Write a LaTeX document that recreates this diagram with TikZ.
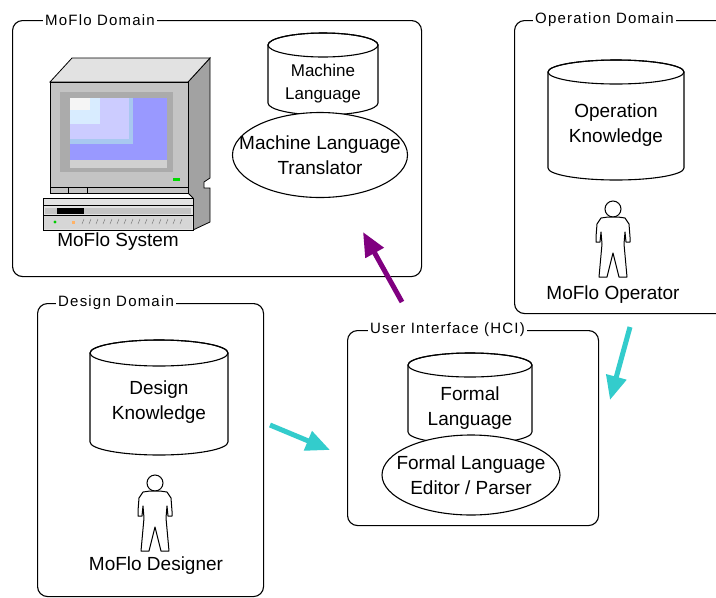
\documentclass[tikz,border=0pt]{standalone}
\usepackage{fontspec}
\setmainfont{Liberation Sans}
\newfontfamily\labfont[LetterSpace=8]{Liberation Sans}
\usetikzlibrary{shapes.geometric,arrows.meta}

\definecolor{flowcyan}{HTML}{33CCCC}
\definecolor{flowpurple}{HTML}{800080}
\definecolor{scrblue}{HTML}{9999FF}
\definecolor{scrlav}{HTML}{CCCCFF}
\definecolor{scrsky}{HTML}{A8C8F0}
\definecolor{scrice}{HTML}{D8ECFF}
\definecolor{casetop}{HTML}{E2E2E2}
\definecolor{casefront}{HTML}{C4C4C4}
\definecolor{caseside}{HTML}{A2A2A2}
\definecolor{casebezel}{HTML}{ABABAB}

% cylinder (data store): left x, right x, top-centre y, bottom-centre y, end radius
\newcommand\dbcylinder[5]{%
  \pgfmathsetmacro\cylrx{(#2-#1)/2}%
  \pgfmathsetmacro\cylcx{(#2+#1)/2}%
  \filldraw[fill=white, line width=1.1pt]
    (#1,#3) -- (#1,#4) arc[start angle=180, end angle=360, x radius=\cylrx pt, y radius=#5pt]
    -- (#2,#3) arc[start angle=0, end angle=180, x radius=\cylrx pt, y radius=#5pt] -- cycle;
  \draw[line width=1.1pt] (\cylcx,#3) ellipse[x radius=\cylrx pt, y radius=#5pt];
}

\tikzset{
  person/.pic={
    \filldraw[fill=white, line width=1pt] (0,8) circle[radius=8pt];
    \filldraw[fill=white, line width=1pt, line join=round]
      (-5,16) -- (-12,17) -- (-16,23) -- (-17,36) -- (-17,41) -- (-13,41) -- (-12,31)
      -- (-11,43) -- (-14,76) -- (-6,76) -- (0,52) -- (6,76) -- (14,76) -- (11,43)
      -- (12,31) -- (13,41) -- (17,41) -- (17,36) -- (16,23) -- (12,17) -- (5,16) -- cycle;
  }
}

\begin{document}
\begin{tikzpicture}[x=1pt, y=-1pt,
  dombox/.style={draw, line width=1.1pt, rounded corners=10pt, anchor=north west,
                 inner sep=0pt, rectangle},
  domlabel/.style={fill=white, inner xsep=2pt, inner ysep=1pt, anchor=west,
                   font=\labfont\fontsize{15}{17}\selectfont},
  txt/.style={align=center, inner sep=0pt, font=\fontsize{19}{25}\selectfont},
  smalltxt/.style={align=center, inner sep=0pt, font=\fontsize{17}{23}\selectfont},
  procell/.style={ellipse, draw, fill=white, line width=1.1pt, inner sep=0pt},
  flow/.style={line width=5pt, -{Triangle[length=24pt, width=20pt]}},
]
\clip (0,0) rectangle (716,598);
\fill[white] (0,0) rectangle (716,598);

% ---------- domain frames ----------
\node[dombox, minimum width=409pt, minimum height=256pt] (moflo) at (12,20) {};
\node[domlabel] (mofloLbl) at ([xshift=31pt]moflo.north west) {MoFlo Domain};

\node[dombox, minimum width=220pt, minimum height=293pt] (oper) at (514,20) {};
\node[domlabel] (operLbl) at ([xshift=19pt]oper.north west) {Operation Domain};

\node[dombox, minimum width=226pt, minimum height=293pt] (design) at (37,303) {};
\node[domlabel] (designLbl) at ([xshift=19pt]design.north west) {Design Domain};

\node[dombox, minimum width=251pt, minimum height=195pt] (ui) at (347,330) {};
\node[domlabel] (uiLbl) at ([xshift=21pt]ui.north west) {User Interface (HCI)};

% ---------- data stores ----------
\dbcylinder{268}{378}{45}{103}{12}
\node[smalltxt] (mlang) at (323,84) {Machine\\Language};

\dbcylinder{548}{684}{72}{168}{12}
\node[txt] (opk) at (616,125) {Operation\\Knowledge};

\dbcylinder{90}{228}{353}{442}{13}
\node[txt] (dk) at (159,402) {Design\\Knowledge};

\dbcylinder{408}{532}{365}{432}{12}
\node[txt] (flang) at (470,408) {Formal\\Language};

% ---------- processes ----------
\node[procell, minimum width=175pt, minimum height=85pt] (mlt) at (320,155) {};
\node[txt] (mltText) at (mlt) {Machine Language\\Translator};

\node[procell, minimum width=178pt, minimum height=80pt] (flep) at (471,475) {};
\node[txt] (flepText) at (flep) {Formal Language\\Editor / Parser};

% ---------- actors ----------
\pic at (613,201) {person};
\node[txt] (opName) at (613,295) {MoFlo Operator};

\pic at (155,475) {person};
\node[txt] (dsName) at (156,566) {MoFlo Designer};

% ---------- workstation ----------
\begin{scope}[line width=0.8pt]
  % side and top of the monitor case
  \filldraw[fill=caseside] (188,82) -- (210,58) -- (210,178) -- (204,182) -- (204,188)
    -- (210,188) -- (210,222) -- (193,230) -- (193,198) -- (188,193) -- cycle;
  \filldraw[fill=casetop] (50,82) -- (72,58) -- (210,58) -- (188,82) -- cycle;
  % monitor front
  \filldraw[fill=casefront] (50,82) rectangle (188,193);
  \fill[casebezel] (60,92) rectangle (173,172);
  \fill[casefront!80!white] (70,160) rectangle (167,168);
  \fill[scrblue] (70,98) rectangle (167,160);
  \fill[scrsky] (70,98) rectangle (133,144);
  \fill[scrlav] (70,98) rectangle (129,139);
  \fill[scrice] (70,98) rectangle (100,124);
  \fill[white!92!gray] (70,98) rectangle (90,110);
  \fill[green!85!black] (173,178) rectangle (180,181);
  \draw (50,187) -- (188,187);
  \draw (68,187) -- (68,193);
  \draw (87,187) -- (87,193);
  % base unit
  \filldraw[fill=casetop] (43,198) rectangle (193,230);
  \draw (43,205) -- (193,205);
  \fill[casefront] (45,208) rectangle (191,214);
  \fill[black] (57,208) rectangle (84,214);
  \draw (43,215) -- (193,215);
  \fill[casefront!70!white] (44,216) rectangle (192,229);
  \foreach \k in {0,...,14} {
    \draw[gray, line width=0.5pt] ({82+7*\k},224) -- ({84+7*\k},219);
  }
  \fill[green!80!black] (55,222) circle[radius=1.6pt];
  \fill[orange!60] (72,221) rectangle (75,224);
\end{scope}
\node[txt] (sysName) at (118,242) {MoFlo System};

% ---------- information flows ----------
\coordinate (toMachine) at (363,232);
\coordinate (fromUI) at (402,302);
\coordinate (fromDesign) at (270,425);
\coordinate (toUIleft) at (330,450);
\coordinate (fromOper) at (630,327);
\coordinate (toUIright) at (610,400);

\draw[flow, flowpurple] (fromUI) -- (toMachine);
\draw[flow, flowcyan] (fromDesign) -- (toUIleft);
\draw[flow, flowcyan] (fromOper) -- (toUIright);
\end{tikzpicture}
\end{document}
